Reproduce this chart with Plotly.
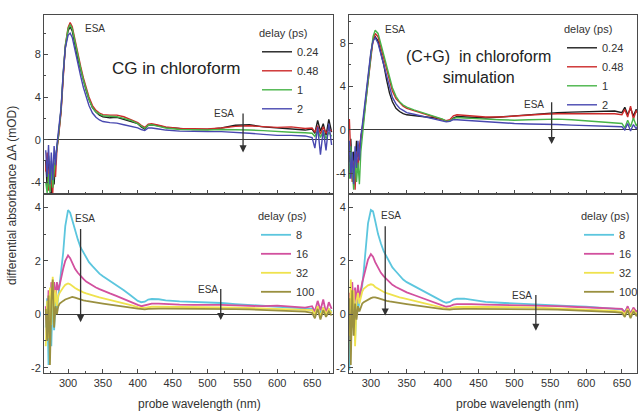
import plotly.graph_objects as go

# ---------------- data ----------------
WAVELENGTH = [268, 270, 272, 274, 276, 278, 280, 282,
              284, 286, 288, 290, 293, 296, 300, 303,
              306, 310, 314, 318, 322, 326, 330, 335,
              340, 345, 350, 360, 370, 380, 390, 400,
              405, 410, 415, 420, 430, 440, 460, 480,
              500, 520, 540, 560, 580, 600, 620, 640,
              650, 654, 658, 662, 666, 670, 674, 678]

EARLY_DELAYS = ["0.24", "0.48", "1", "2"]
LATE_DELAYS = ["8", "16", "32", "100"]

# CG in chloroform, early delays
CG_024 = [-2.0, -4.5, -1.5, -3.8, -5.0, -3.0, -4.2, -1.8,
          -1.0, 0.2, 1.5, 2.8, 6.0, 8.6, 10.2, 10.6,
          10.2, 8.8, 7.6, 6.6, 5.5, 4.6, 3.8, 3.0,
          2.6, 2.3, 2.15, 2.05, 2.1, 1.9, 1.75, 1.5,
          1.2, 1.0, 1.35, 1.4, 1.3, 1.15, 1.05, 0.95,
          0.95, 1.1, 1.35, 1.4, 1.2, 1.1, 1.05, 0.9,
          1.0, 0.6, 1.8, 0.8, 1.5, 0.4, 1.9, 0.7]
CG_048 = [-3.0, -1.2, -4.8, -2.5, -4.0, -5.0, -2.2, -3.5,
          -1.0, 0.0, 1.3, 2.6, 6.0, 8.8, 10.5, 11.0,
          10.6, 9.3, 8.0, 6.9, 5.8, 4.8, 4.0, 3.2,
          2.75, 2.5, 2.35, 2.3, 2.3, 2.15, 1.9, 1.6,
          1.35, 1.15, 1.45, 1.5, 1.35, 1.2, 1.05, 1.0,
          1.0, 1.1, 1.25, 1.3, 1.25, 1.15, 1.2, 1.05,
          1.1, 0.7, 1.3, 0.5, 1.2, 0.6, 1.0, 0.8]
CG_1 = [-4.0, -5.0, -3.2, -5.0, -2.0, -4.5, -3.0, -1.5,
        -0.8, 0.3, 1.6, 2.9, 6.2, 8.8, 10.4, 10.8,
        10.4, 9.1, 7.8, 6.7, 5.6, 4.6, 3.8, 3.0,
        2.6, 2.4, 2.25, 2.2, 2.15, 2.0, 1.8, 1.5,
        1.25, 1.05, 1.35, 1.4, 1.25, 1.1, 0.95, 0.9,
        0.9, 0.95, 0.95, 0.9, 0.85, 0.75, 0.7, 0.65,
        0.6, 0.3, 0.9, 0.2, 0.8, 0.1, 0.7, 0.3]
CG_2 = [-1.0, -3.5, -0.5, -4.2, -1.2, -3.8, -0.6, -2.4,
        -0.5, 0.5, 1.8, 3.0, 6.2, 8.6, 9.8, 10.0,
        9.6, 8.3, 7.1, 6.0, 4.9, 4.0, 3.2, 2.5,
        2.1, 1.85, 1.7, 1.6, 1.55, 1.4, 1.25, 1.1,
        0.95, 0.85, 1.1, 1.1, 1.0, 0.9, 0.8, 0.75,
        0.75, 0.75, 0.7, 0.6, 0.5, 0.4, 0.4, 0.35,
        0.2, -0.8, 1.2, -1.4, 0.9, -1.0, 1.5, -0.5]

# (C+G) simulation, early delays
SIM_024 = [-1.5, -3.0, -0.8, -4.0, -2.0, -3.2, -1.0, -2.5,
           -1.8, -0.5, 0.2, 1.2, 3.0, 4.6, 7.0, 8.3,
           8.6, 8.2, 7.2, 6.0, 4.6, 3.4, 2.6, 2.0,
           1.7, 1.5, 1.4, 1.32, 1.28, 1.2, 1.1, 0.95,
           0.8, 0.85, 1.1, 1.25, 1.2, 1.15, 1.1, 1.2,
           1.3, 1.45, 1.55, 1.6, 1.65, 1.7, 1.7, 1.75,
           1.6, 2.1, 1.4, 2.0, 1.3, 1.9, 1.2, 1.7]
SIM_048 = [0.5, 1.0, -2.5, -4.8, -3.0, -5.5, -2.0, -3.8,
           -1.5, -0.8, 0.0, 1.0, 2.8, 4.4, 6.8, 8.3,
           8.9, 8.6, 7.6, 6.6, 5.5, 4.5, 3.6, 2.9,
           2.5, 2.2, 2.0, 1.8, 1.6, 1.4, 1.2, 1.0,
           0.85, 0.95, 1.3, 1.4, 1.35, 1.3, 1.2, 1.2,
           1.3, 1.4, 1.45, 1.5, 1.5, 1.5, 1.45, 1.5,
           1.4, 1.9, 1.2, 2.2, 1.0, 1.8, 1.3, 2.0]
SIM_1 = [-2.0, -4.5, -1.5, -3.5, -5.5, -2.5, -4.8, -3.0,
         -5.0, -2.0, -0.5, 0.8, 2.6, 4.4, 7.0, 8.6,
         9.2, 8.9, 7.9, 6.9, 5.8, 4.8, 3.9, 3.1,
         2.6, 2.3, 2.1, 1.85, 1.65, 1.4, 1.2, 1.0,
         0.8, 0.85, 1.05, 1.15, 1.1, 1.05, 1.0, 0.95,
         0.9, 0.95, 1.0, 1.0, 0.95, 0.85, 0.75, 0.65,
         0.6, 0.2, 0.9, 0.3, 1.1, 0.4, 0.8, 0.5]
SIM_2 = [-3.0, -1.0, -4.5, -2.0, -5.0, -1.5, -3.5, -1.0,
         -2.8, -0.6, 0.4, 1.5, 3.4, 5.0, 7.2, 8.2,
         8.5, 8.0, 7.0, 5.9, 4.8, 3.8, 3.0, 2.4,
         2.0, 1.8, 1.6, 1.45, 1.3, 1.15, 1.0, 0.85,
         0.75, 0.8, 0.95, 0.95, 0.9, 0.85, 0.75, 0.65,
         0.6, 0.55, 0.55, 0.5, 0.45, 0.4, 0.35, 0.3,
         0.3, 0.0, 0.6, -0.1, 0.5, 0.1, 0.7, 0.2]

# CG in chloroform, late delays
CG_8 = [-0.5, 0.6, -1.9, 0.4, -1.2, 0.8, -0.6, 0.5,
        0.2, 0.7, 1.0, 1.5, 2.3, 3.3, 3.9, 3.8,
        3.5, 3.1, 2.8, 2.5, 2.3, 2.1, 1.95, 1.8,
        1.65, 1.52, 1.42, 1.25, 1.08, 0.9, 0.7, 0.5,
        0.45, 0.47, 0.55, 0.57, 0.56, 0.52, 0.48, 0.46,
        0.45, 0.42, 0.38, 0.35, 0.32, 0.3, 0.27, 0.22,
        0.2, 0.1, 0.3, 0.05, 0.25, 0.0, 0.2, 0.1]
CG_16 = [0.3, -0.8, 0.9, -0.3, 1.2, 0.4, 1.2, 0.6,
         1.2, 0.9, 1.1, 1.4, 1.7, 2.0, 2.2, 2.1,
         1.9, 1.7, 1.55, 1.42, 1.32, 1.22, 1.15, 1.07,
         1.0, 0.94, 0.88, 0.78, 0.68, 0.56, 0.45, 0.35,
         0.3, 0.33, 0.38, 0.4, 0.4, 0.38, 0.36, 0.35,
         0.36, 0.35, 0.33, 0.32, 0.3, 0.32, 0.28, 0.25,
         0.3, 0.1, 0.5, 0.15, 0.55, 0.05, 0.45, 0.2]
CG_32 = [-1.2, 0.5, -0.9, 1.0, -0.4, 1.4, 0.2, 0.9,
         0.3, 0.7, 0.8, 0.9, 1.0, 1.1, 1.15, 1.12,
         1.05, 0.98, 0.92, 0.86, 0.82, 0.78, 0.74, 0.7,
         0.67, 0.63, 0.6, 0.54, 0.48, 0.41, 0.34, 0.27,
         0.24, 0.24, 0.27, 0.28, 0.28, 0.28, 0.27, 0.27,
         0.27, 0.26, 0.25, 0.23, 0.21, 0.2, 0.18, 0.15,
         0.15, 0.0, 0.3, -0.1, 0.25, 0.0, 0.2, 0.05]
CG_100 = [0.2, -1.0, 0.7, -1.9, 0.5, 1.3, -0.5, 0.3,
          0.0, 0.3, 0.4, 0.45, 0.5, 0.55, 0.6, 0.64,
          0.65, 0.62, 0.58, 0.55, 0.52, 0.5, 0.48, 0.46,
          0.44, 0.42, 0.4, 0.36, 0.33, 0.29, 0.25, 0.21,
          0.19, 0.18, 0.2, 0.21, 0.21, 0.21, 0.21, 0.21,
          0.21, 0.2, 0.19, 0.18, 0.16, 0.14, 0.12, 0.1,
          0.05, -0.15, 0.2, -0.2, 0.15, -0.1, 0.1, -0.05]

# (C+G) simulation, late delays
SIM_8 = [0.5, -2.1, 0.8, -0.5, 0.3, -1.0, 0.6, 0.1,
         0.5, 0.8, 1.1, 1.6, 2.5, 3.4, 3.9, 3.85,
         3.5, 3.0, 2.65, 2.35, 2.15, 1.95, 1.75, 1.6,
         1.45, 1.3, 1.2, 1.05, 0.92, 0.78, 0.62, 0.48,
         0.43, 0.46, 0.55, 0.58, 0.58, 0.54, 0.46, 0.43,
         0.4, 0.37, 0.35, 0.33, 0.3, 0.28, 0.25, 0.2,
         0.18, 0.1, 0.25, 0.05, 0.2, 0.1, 0.18, 0.12]
SIM_16 = [-0.5, 0.8, -1.0, 1.2, 0.2, 1.0, 0.4, 1.1,
          0.6, 1.0, 1.2, 1.4, 1.7, 2.05, 2.25, 2.15,
          1.95, 1.72, 1.55, 1.42, 1.3, 1.2, 1.1, 1.02,
          0.95, 0.88, 0.82, 0.72, 0.62, 0.52, 0.42, 0.32,
          0.28, 0.3, 0.36, 0.38, 0.39, 0.38, 0.36, 0.35,
          0.35, 0.34, 0.32, 0.3, 0.28, 0.26, 0.22, 0.2,
          0.2, 0.05, 0.3, 0.0, 0.25, 0.1, 0.2, 0.0]
SIM_32 = [0.3, -0.8, 1.3, -0.2, 0.9, -1.2, 0.5, 0.8,
          0.4, 0.7, 0.85, 0.95, 1.02, 1.08, 1.12, 1.1,
          1.02, 0.95, 0.88, 0.83, 0.79, 0.75, 0.71, 0.67,
          0.63, 0.6, 0.57, 0.51, 0.45, 0.38, 0.31, 0.24,
          0.21, 0.22, 0.26, 0.27, 0.28, 0.28, 0.27, 0.27,
          0.27, 0.26, 0.24, 0.22, 0.2, 0.18, 0.15, 0.12,
          0.1, 0.0, 0.2, -0.05, 0.15, 0.0, 0.12, 0.05]
SIM_100 = [-0.3, 0.6, -1.9, 0.9, -0.8, 0.4, -0.2, 0.3,
           0.1, 0.3, 0.4, 0.45, 0.5, 0.56, 0.6, 0.63,
           0.63, 0.6, 0.56, 0.53, 0.5, 0.48, 0.46, 0.44,
           0.42, 0.4, 0.38, 0.34, 0.31, 0.27, 0.23, 0.19,
           0.17, 0.17, 0.19, 0.2, 0.2, 0.2, 0.2, 0.2,
           0.2, 0.19, 0.18, 0.17, 0.15, 0.13, 0.1, 0.08,
           0.05, -0.1, 0.15, -0.15, 0.1, -0.05, 0.08, 0.0]

X_TICKS = [300, 350, 400, 450, 500, 550, 600, 650]
Y_TICKS_EARLY = [-4, 0, 4, 8]
Y_TICKS_LATE = [-2, 0, 2, 4]

# ESA markers: (label wavelength, label value, arrow wavelength, arrow top, arrow bottom)
ESA_CG_EARLY = [(338, 10.4, None, None, None), (524, 2.45, 551, 2.6, -1.2)]
ESA_SIM_EARLY = [(333, 9.3, None, None, None), (527, 2.35, 552, 2.7, -1.3)]
ESA_CG_LATE = [(324, 3.6, 318, 3.25, -0.3), (500, 0.92, 519, 1.0, -0.22)]
ESA_SIM_LATE = [(328, 3.68, 320, 3.35, -0.05), (510, 0.7, 530, 0.78, -0.62)]

# ---------------- styling ----------------
FONT = "Liberation Sans, Arial, Helvetica, sans-serif"
EARLY_COLORS = ["#1e1e1e", "#cc2a2a", "#48b448", "#4848b0"]
LATE_COLORS = ["#5cc6de", "#d2509e", "#efe24e", "#9a9040"]
AXC = "#4a4a4a"
W, H = 639, 411


def px_x(p):
    return p / W


def px_y(p):
    return 1 - p / H


LEFT = [px_x(44), px_x(333)]
RIGHT = [px_x(349), px_x(637)]
TOP = [px_y(194), px_y(15)]
BOTTOM = [px_y(373), px_y(194)]

fig = go.Figure()

panels = [
    dict(n="", series=[CG_024, CG_048, CG_1, CG_2], names=EARLY_DELAYS,
         colors=EARLY_COLORS, width=1.4, esa=ESA_CG_EARLY),
    dict(n="2", series=[CG_8, CG_16, CG_32, CG_100], names=LATE_DELAYS,
         colors=LATE_COLORS, width=1.8, esa=ESA_CG_LATE),
    dict(n="3", series=[SIM_024, SIM_048, SIM_1, SIM_2], names=EARLY_DELAYS,
         colors=EARLY_COLORS, width=1.4, esa=ESA_SIM_EARLY),
    dict(n="4", series=[SIM_8, SIM_16, SIM_32, SIM_100], names=LATE_DELAYS,
         colors=LATE_COLORS, width=1.8, esa=ESA_SIM_LATE),
]

annotations = []
for p in panels:
    n = p["n"]
    for vals, name, col in zip(p["series"], p["names"], p["colors"]):
        fig.add_trace(go.Scatter(
            x=WAVELENGTH, y=vals, name=name, mode="lines",
            line=dict(color=col, width=p["width"]),
            xaxis="x" + n, yaxis="y" + n, legend="legend" + n,
            hoverinfo="skip"))
    for lx, ly, axw, top, bot in p["esa"]:
        annotations.append(dict(
            x=lx, y=ly, xref="x" + n, yref="y" + n, text="ESA",
            xanchor="center", yanchor="middle",
            showarrow=False, font=dict(size=10, color="#333", family=FONT)))
        if axw is not None:
            annotations.append(dict(
                x=axw, y=bot, ax=axw, ay=top, xref="x" + n, yref="y" + n,
                axref="x" + n, ayref="y" + n, text="", showarrow=True,
                arrowhead=2, arrowsize=1.1, arrowwidth=1.3, arrowcolor="#333",
                standoff=0, startstandoff=0))


def xaxis(domain, rng, labels, anchor):
    return dict(domain=domain, range=rng, anchor=anchor, showline=True,
                mirror=True, linecolor=AXC, linewidth=1, ticks="inside",
                ticklen=4, tickcolor=AXC, tickvals=X_TICKS,
                showticklabels=labels, showgrid=False, zeroline=False,
                automargin=False,
                tickfont=dict(size=11, color="#333", family=FONT),
                minor=dict(ticks="inside", ticklen=2, tickcolor=AXC,
                           tick0=275, dtick=50, showgrid=False))


def yaxis(domain, rng, ticks, minor_d, anchor):
    return dict(domain=domain, range=rng, anchor=anchor, showline=True,
                mirror=True, linecolor=AXC, linewidth=1, ticks="inside",
                ticklen=4, tickcolor=AXC, tickvals=ticks,
                ticktext=[str(t) for t in ticks], showgrid=False,
                automargin=False,
                zeroline=True, zerolinecolor="#3a3a3a", zerolinewidth=1.3,
                tickfont=dict(size=11, color="#333", family=FONT),
                minor=dict(ticks="inside", ticklen=2, tickcolor=AXC,
                           dtick=minor_d, showgrid=False))


def legend(xp, yp):
    return dict(x=px_x(xp), y=px_y(yp), xanchor="left", yanchor="top",
                bgcolor="rgba(0,0,0,0)", borderwidth=0,
                font=dict(size=11, color="#333", family=FONT),
                title=dict(text="delay (ps)",
                           font=dict(size=11, color="#333", family=FONT)),
                itemwidth=30, tracegroupgap=0)


annotations += [
    dict(x=px_x(176), y=px_y(68), xref="paper", yref="paper",
         xanchor="center", yanchor="middle",
         text="CG in chloroform", showarrow=False,
         font=dict(size=17, color="#222", family=FONT)),
    dict(x=px_x(478), y=px_y(67), xref="paper", yref="paper",
         xanchor="center", yanchor="middle",
         text="(C+G)  in chloroform<br>simulation", showarrow=False,
         align="center", font=dict(size=16, color="#222", family=FONT)),
    dict(x=px_x(12), y=px_y(196), xref="paper", yref="paper",
         xanchor="center", yanchor="middle",
         text="differential absorbance \u0394A (mOD)", showarrow=False,
         textangle=-90, font=dict(size=12, color="#333", family=FONT)),
    dict(x=px_x(199), y=px_y(404), xref="paper", yref="paper",
         xanchor="center", yanchor="middle",
         text="probe wavelength (nm)", showarrow=False,
         font=dict(size=12, color="#333", family=FONT)),
    dict(x=px_x(517), y=px_y(404), xref="paper", yref="paper",
         xanchor="center", yanchor="middle",
         text="probe wavelength (nm)", showarrow=False,
         font=dict(size=12, color="#333", family=FONT)),
]

fig.update_layout(
    width=W, height=H, margin=dict(l=0, r=0, t=0, b=0, autoexpand=False),
    paper_bgcolor="white", plot_bgcolor="white",
    font=dict(family=FONT, size=11, color="#333"),
    xaxis=xaxis(LEFT, [265.5, 680], False, "y"),
    yaxis=yaxis(TOP, [-5.1, 11.7], Y_TICKS_EARLY, 2, "x"),
    xaxis2=xaxis(LEFT, [265.5, 680], True, "y2"),
    yaxis2=yaxis(BOTTOM, [-2.2, 4.5], Y_TICKS_LATE, 1, "x2"),
    xaxis3=xaxis(RIGHT, [269.5, 671], False, "y3"),
    yaxis3=yaxis(TOP, [-5.9, 10.6], Y_TICKS_EARLY, 2, "x3"),
    xaxis4=xaxis(RIGHT, [269.5, 671], True, "y4"),
    yaxis4=yaxis(BOTTOM, [-2.2, 4.5], Y_TICKS_LATE, 1, "x4"),
    legend=legend(257, 23),
    legend2=legend(256, 206),
    legend3=legend(562, 19),
    legend4=legend(579, 206),
    annotations=annotations,
    showlegend=True,
)

fig.write_html(
    "out.html",
    config={"displayModeBar": False},
    post_script="document.body.style.margin='0px';"
                "document.documentElement.style.overflow='hidden';")
